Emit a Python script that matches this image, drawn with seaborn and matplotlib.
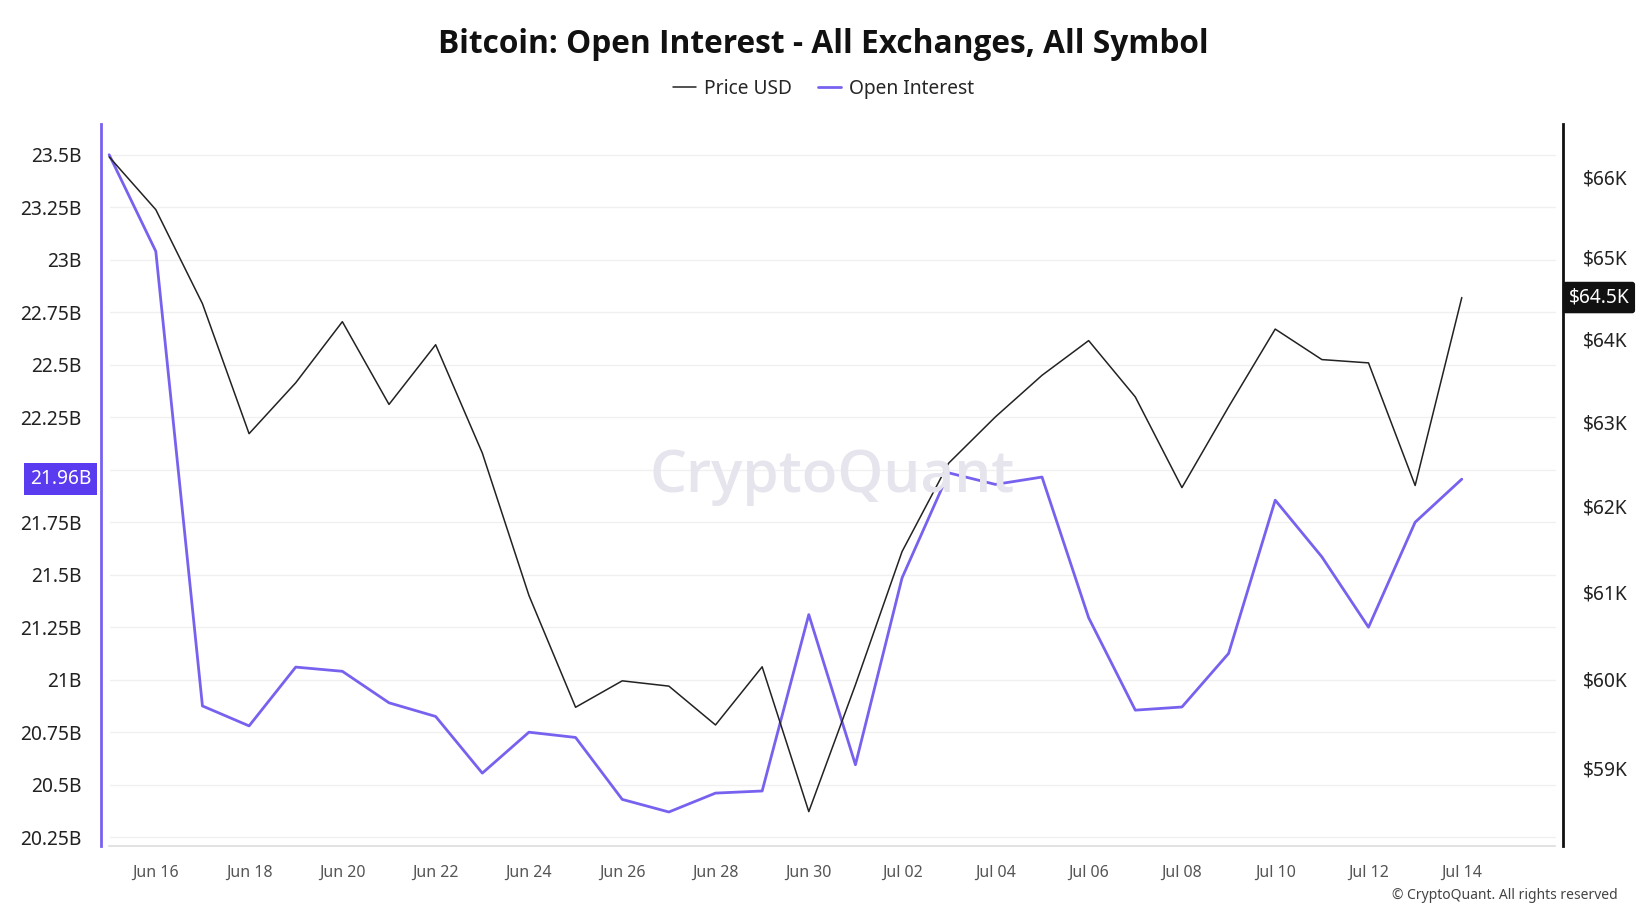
import numpy as np
import pandas as pd
import matplotlib
matplotlib.use("Agg")
import matplotlib.pyplot as plt
import matplotlib.dates as mdates
from matplotlib.ticker import FixedLocator, NullLocator
from matplotlib.lines import Line2D
import seaborn as sns

# ---- data ----
dates = pd.date_range("2024-06-15", "2024-07-14", freq="D")
open_interest_b = [23.50, 23.04, 20.875, 20.78, 21.06, 21.04, 20.89, 20.825, 20.555, 20.75,
                   20.725, 20.43, 20.37, 20.46, 20.47, 21.31, 20.595, 21.485, 21.985, 21.93,
                   21.965, 21.295, 20.855, 20.87, 21.125, 21.855, 21.585, 21.25, 21.75, 21.955]
price_usd = [66250, 65590, 64430, 62860, 63470, 64210, 63210, 63930, 62630, 60960,
             59680, 59980, 59920, 59480, 60140, 58510, 59935, 61470, 62510, 63060,
             63560, 63980, 63300, 62220, 63180, 64120, 63750, 63710, 62245, 64505]
oi_ticks = [20.25, 20.5, 20.75, 21.0, 21.25, 21.5, 21.75, 22.0, 22.25, 22.5, 22.75, 23.0, 23.25, 23.5]
oi_tick_labels = ["20.25B", "20.5B", "20.75B", "21B", "21.25B", "21.5B", "21.75B", "",
                  "22.25B", "22.5B", "22.75B", "23B", "23.25B", "23.5B"]
price_ticks = [59000, 60000, 61000, 62000, 63000, 64000, 65000, 66000]
price_tick_labels = ["$59K", "$60K", "$61K", "$62K", "$63K", "$64K", "$65K", "$66K"]
x_tick_dates = pd.date_range("2024-06-16", "2024-07-14", freq="2D")
last_oi_label = "21.96B"
last_price_label = "$64.5K"

df = pd.DataFrame({"date": dates, "oi": open_interest_b, "price": price_usd})

sns.set_theme(style="white")
plt.rcParams["font.family"] = ["Noto Sans", "DejaVu Sans"]

PURPLE = "#7762f0"
PURPLE_BOX = "#5b3bf0"
BLACK = "#222222"

fig = plt.figure(figsize=(16.47, 9.07), dpi=100)
ax = fig.add_axes([0.0612, 0.0677, 0.9490 - 0.0612, 0.863 - 0.0677])
ax2 = ax.twinx()

# watermark
fig.text(0.505, 0.474, "CryptoQuant", fontsize=42, color="#e6e4ec", ha="center", va="center",
         zorder=0, fontweight="semibold", family=["Open Sans", "DejaVu Sans"])

sns.lineplot(data=df, x="date", y="oi", ax=ax, color=PURPLE, linewidth=2.0, zorder=3)
sns.lineplot(data=df, x="date", y="price", ax=ax2, color=BLACK, linewidth=1.1, zorder=3)
ax.patch.set_alpha(0)
ax2.patch.set_alpha(0)

x0 = dates[0] - pd.Timedelta(hours=4.3)
x1 = dates[-1] + pd.Timedelta(days=2.17)
ax.set_xlim(x0, x1)
ax.set_ylim(20.21, 23.645)
ax2.set_yscale("log")
ax2.set_ylim(58134, 66661)

for t in oi_ticks:
    ax.axhline(t, color="#f0f0f0", linewidth=1.0, zorder=0, xmin=0.006, xmax=0.9945)

ax.yaxis.set_major_locator(FixedLocator(oi_ticks))
ax.set_yticklabels(oi_tick_labels)
ax.tick_params(axis="y", labelsize=13.8, labelcolor="#222222", length=0, pad=14)

ax2.yaxis.set_major_locator(FixedLocator(price_ticks))
ax2.yaxis.set_minor_locator(NullLocator())
ax2.set_yticklabels(price_tick_labels)
ax2.tick_params(axis="y", which="both", labelsize=13.8, labelcolor="#222222", length=0, pad=14)

ax.xaxis.set_major_locator(FixedLocator(mdates.date2num(x_tick_dates)))
ax.xaxis.set_major_formatter(mdates.DateFormatter("%b %d"))
ax.tick_params(axis="x", labelsize=11.5, labelcolor="#555555", length=6, color="#dddddd", pad=8)
ax.set_xlabel("")
ax.set_ylabel("")
ax2.set_ylabel("")

ax.spines["top"].set_visible(False)
ax2.spines["top"].set_visible(False)
ax.spines["left"].set_color(PURPLE)
ax.spines["left"].set_linewidth(2.0)
ax.spines["right"].set_visible(False)
ax2.spines["left"].set_visible(False)
ax2.spines["bottom"].set_visible(False)
ax2.spines["right"].set_color("#111111")
ax2.spines["right"].set_linewidth(2.0)
ax.spines["bottom"].set_color("#dddddd")
ax.spines["bottom"].set_linewidth(1.2)
ax.spines["bottom"].set_bounds(mdates.date2num(dates[0]), mdates.date2num(dates[-1] + pd.Timedelta(days=2)))

ax.annotate(last_oi_label, xy=(0, open_interest_b[-1]), xycoords=("axes fraction", "data"),
            xytext=(-7, 0), textcoords="offset points", ha="right", va="center",
            fontsize=13.8, color="white",
            bbox=dict(boxstyle="square,pad=0.3", fc=PURPLE_BOX, ec="none"), zorder=5,
            annotation_clip=False)
ax2.annotate(last_price_label, xy=(1, price_usd[-1]), xycoords=("axes fraction", "data"),
             xytext=(4, 0), textcoords="offset points", ha="left", va="center",
             fontsize=13.8, color="white",
             bbox=dict(boxstyle="round,pad=0.3,rounding_size=0.15", fc="#111111", ec="none"), zorder=5,
             annotation_clip=False)

fig.text(0.5, 0.951, "Bitcoin: Open Interest - All Exchanges, All Symbol", fontsize=22.8,
         fontweight="bold", ha="center", va="center", color="#111111",
         family=["Open Sans", "DejaVu Sans"])
handles = [Line2D([0], [0], color=BLACK, linewidth=1.1),
           Line2D([0], [0], color=PURPLE, linewidth=2.0)]
fig.legend(handles, ["Price USD", "Open Interest"], loc="center", bbox_to_anchor=(0.5, 0.902),
           ncol=2, frameon=False, fontsize=13.8, handlelength=1.2, handletextpad=0.4,
           columnspacing=1.4)

fig.text(0.982, 0.004, "© CryptoQuant. All rights reserved", fontsize=10, color="#444444",
         ha="right", va="bottom")

fig.savefig("out.png", dpi=100)
